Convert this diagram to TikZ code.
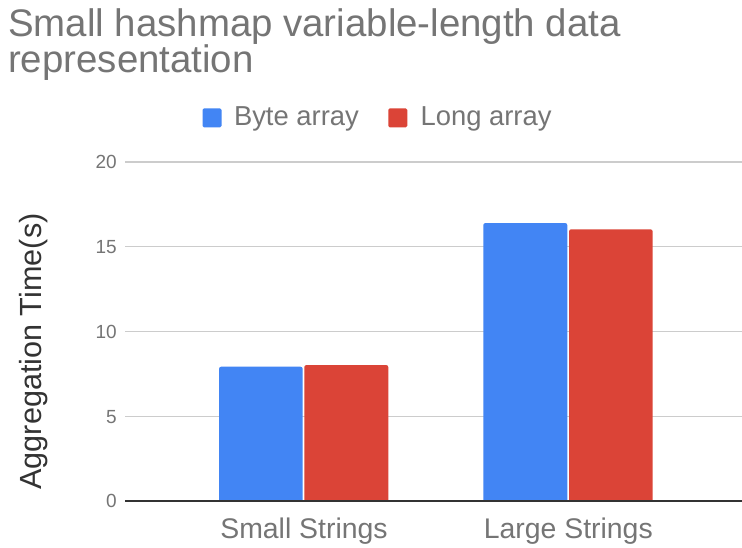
\documentclass[tikz,border=0pt]{standalone}
\usepackage{fontspec}
\setmainfont{Liberation Sans}
\definecolor{barblue}{HTML}{4285F4}
\definecolor{barred}{HTML}{DB4437}
\definecolor{labelgray}{HTML}{757575}
\definecolor{axisgray}{HTML}{333333}
\definecolor{gridgray}{HTML}{CCCCCC}
\tikzset{
  titletext/.style={inner sep=0pt, text=labelgray, font=\fontsize{38.4}{44}\selectfont, anchor=base west},
  legendtext/.style={inner sep=0pt, text=labelgray, font=\fontsize{27.4}{32}\selectfont, anchor=base west},
  legendkey/.style={inner sep=0pt, minimum size=19pt, rounded corners=1.5pt},
  ticktext/.style={inner sep=0pt, text=labelgray, font=\fontsize{19}{22}\selectfont, anchor=base east},
  cattext/.style={inner sep=0pt, text=labelgray, font=\fontsize{28.4}{33}\selectfont, anchor=base},
  axistitle/.style={inner sep=0pt, text=axisgray, font=\fontsize{30.6}{36}\selectfont, anchor=base, rotate=90},
  gridline/.style={draw=gridgray, line width=1.3pt},
  baseline/.style={draw=axisgray, line width=1.5pt},
}
\newcommand{\chartbar}[4]{% left, right, top, colour
  \fill[#4] (#1,501) [rounded corners=2.2pt]-- (#1,#3) -- (#2,#3) [sharp corners]-- (#2,501) -- cycle;
}
\begin{document}
\begin{tikzpicture}[x=1pt, y=-1pt]
\useasboundingbox (0,0) rectangle (742,547);
\fill[white] (0,0) rectangle (742,547);

% title
\node[titletext] (title1) at (8,36) {Small hashmap variable-length data};
\node[titletext] (title2) at (8,72) {representation};

% legend
\node[legendkey, fill=barblue] (keyblue) at (212,117.8) {};
\node[legendtext] (legblue) at (233.8,125.7) {Byte array};
\node[legendkey, fill=barred] (keyred) at (397.8,117.8) {};
\node[legendtext] (legred) at (420.4,125.7) {Long array};

% grid lines and tick labels
\foreach \v/\y in {20/162, 15/246.75, 10/331.5, 5/416.25} {
  \draw[gridline] (125,\y) -- (742,\y);
  \node[ticktext] (tick\v) at (117,\y+6.8) {\v};
}
\node[ticktext] (tick0) at (117,507.8) {0};

% bars
\chartbar{219}{302.7}{366.7}{barblue}
\chartbar{304.3}{388.3}{365}{barred}
\chartbar{483.3}{567.3}{223}{barblue}
\chartbar{569}{652.7}{229.3}{barred}

% baseline
\draw[baseline] (125,501) -- (742,501);

% category labels
\node[cattext] (catsmall) at (304,538.3) {Small Strings};
\node[cattext] (catlarge) at (568.3,538.3) {Large Strings};

% axis title
\node[axistitle] (ytitle) at (41.5,351.5) {Aggregation Time(s)};
\end{tikzpicture}
\end{document}
